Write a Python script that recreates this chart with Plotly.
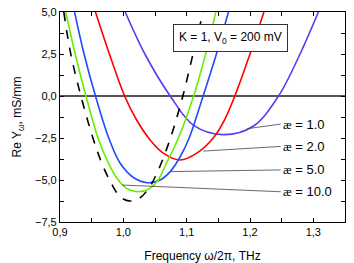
import plotly.graph_objects as go

# Frequency (THz) and Re Y (mS/mm)
f_k1 = [1.003, 1.034, 1.074, 1.111, 1.158, 1.205, 1.245, 1.279, 1.308]
y_k1 = [5.0, 2.5, 0.0, -1.75, -2.3, -1.8, 0.0, 2.5, 5.0]

f_k2 = [0.956, 0.978, 1.002, 1.021, 1.042, 1.063, 1.090, 1.116, 1.142, 1.160, 1.176, 1.200, 1.222]
y_k2 = [5.0, 2.5, 0.0, -1.43, -2.6, -3.4, -3.81, -3.4, -2.5, -1.4, 0.0, 2.5, 5.0]

f_k5 = [0.923, 0.938, 0.956, 0.977, 0.995, 1.016, 1.038, 1.058, 1.074, 1.090, 1.104, 1.126, 1.147, 1.166]
y_k5 = [5.0, 2.5, 0.0, -2.5, -4.0, -4.85, -5.16, -5.0, -4.5, -3.6, -2.5, 0.0, 2.5, 5.0]

f_k10 = [0.909, 0.924, 0.941, 0.960, 0.974, 0.990, 1.005, 1.024, 1.042, 1.055, 1.068, 1.087, 1.111, 1.130, 1.146]
y_k10 = [5.0, 2.5, 0.0, -2.5, -3.8, -4.9, -5.5, -5.7, -5.5, -5.0, -4.0, -2.5, 0.0, 2.5, 5.0]

f_inf = [0.906, 0.917, 0.933, 0.952, 0.966, 0.981, 0.995, 1.010, 1.025, 1.040, 1.053, 1.065, 1.077, 1.094, 1.110, 1.126]
y_inf = [5.0, 2.5, 0.0, -2.5, -4.0, -5.2, -6.0, -6.25, -6.1, -5.5, -4.6, -3.5, -2.2, 0.0, 2.5, 5.0]

labels = ["1.0", "2.0", "5.0", "10.0"]

fig = go.Figure()
series = [
    (f_k1, y_k1, "#5a3cf0", "solid"),
    (f_k2, y_k2, "#ff0000", "solid"),
    (f_k5, y_k5, "#1e4cff", "solid"),
    (f_k10, y_k10, "#66ee00", "solid"),
    (f_inf, y_inf, "#000000", "dash"),
]
for fx, fy, c, d in series:
    fig.add_trace(go.Scatter(x=fx, y=fy, mode="lines",
                             line=dict(color=c, width=1.6, dash=d, shape="spline", smoothing=1.0),
                             showlegend=False, cliponaxis=True))

ae = '<span style="font-family:Liberation Serif">æ</span>'
# label leader lines: (curve point), (text tail)
leaders = [
    ((1.195, -1.95), (1.2485, -1.67)),
    ((1.126, -3.28), (1.2485, -3.0)),
    ((1.075, -4.5), (1.2485, -4.4)),
    ((0.998, -5.3), (1.2485, -5.7)),
]
for lab, (pt, tail) in zip(labels, leaders):
    fig.add_annotation(x=pt[0], y=pt[1], ax=tail[0], ay=tail[1], axref="x", ayref="y",
                       xref="x", yref="y", text=f"{ae} = {lab}", showarrow=True,
                       arrowhead=0, arrowwidth=0.8, arrowcolor="#444", xanchor="left",
                       font=dict(size=13, color="black"), standoff=0, startstandoff=0)

fig.add_annotation(x=1.1686, y=3.48, xref="x", yref="y",
                   text="K = 1, V<sub>0</sub> = 200 mV", showarrow=False,
                   font=dict(size=12, color="black"), bgcolor="white",
                   bordercolor="#333", borderwidth=1, borderpad=5)

axis_common = dict(showline=True, linecolor="black", linewidth=1.2, mirror="ticks",
                   ticks="inside", ticklen=4, tickwidth=1, tickcolor="black",
                   showgrid=False, tickfont=dict(size=11, color="black"),
                   tickformat=".1f", automargin=False, ticklabeloverflow="allow")
fig.update_xaxes(range=[0.9, 1.35], dtick=0.1, tick0=0.9,
                 minor=dict(ticks="inside", dtick=0.05, ticklen=4, tickcolor="black", showgrid=False),
                 title=dict(text="Frequency ω/2π, THz", font=dict(size=12, color="black"), standoff=18),
                 zeroline=False, **axis_common)
fig.update_yaxes(range=[-7.5, 5.0], dtick=2.5, tick0=0,
                 minor=dict(ticks="inside", dtick=1.25, ticklen=4, tickcolor="black", showgrid=False),
                 title=dict(text="Re Y<sub>ω</sub>, mS/mm", font=dict(size=12, color="black"), standoff=10),
                 zeroline=True, zerolinecolor="#555", zerolinewidth=1.5, **axis_common)

# the page body adds an 8 px offset, so the figure is made 8 px smaller
fig.update_layout(width=346, height=255, margin=dict(l=52, r=9, t=4, b=41),
                  plot_bgcolor="white", paper_bgcolor="white", separators=", ",
                  font=dict(family="Liberation Sans, Arial, sans-serif", color="black"))

fig.write_html("out.html")
